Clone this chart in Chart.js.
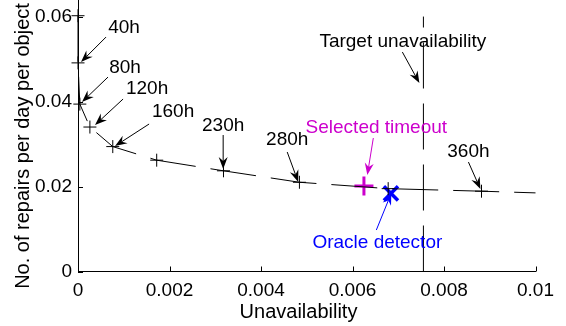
<!DOCTYPE html>
<html><head><meta charset="utf-8">
<script src="https://cdn.jsdelivr.net/npm/chart.js@4/dist/chart.umd.min.js"></script>
<style>html,body{margin:0;padding:0;background:#fff}#wrap{width:566px;height:326px;position:relative}</style>
</head><body><div id="wrap"><canvas id="c"></canvas></div>
<script>
// ---- data ----
const curveX = [0, 0, 0.00004, 0.00026, 0.00076, 0.00172, 0.00318, 0.00484, 0.00678, 0.00882, 0.0106];
const curveY = [0.0602, 0.0491, 0.0394, 0.0340, 0.0294, 0.0262, 0.0237, 0.0210, 0.0195, 0.0189, 0.0183];
const targetX = [0.00755, 0.00755];
const targetY = [0, 0.06];
const selectedX = [0.00625];
const selectedY = [0.0201];
const oracleX = [0.00684];
const oracleY = [0.0184];
const xTickLabels = ['0', '0.002', '0.004', '0.006', '0.008', '0.01'];
const yTickLabels = ['0', '0.02', '0.04', '0.06'];
const xTitle = 'Unavailability';
const yTitle = 'No. of repairs per day per object';
// annotations (data coordinates)
const noteLabel = ['40h', '80h', '120h', '160h', '230h', '280h', 'Selected timeout', 'Target unavailability', '360h', 'Oracle detector'];
const noteTextX = [0.001007, 0.001028, 0.00151, 0.002079, 0.003173, 0.004573, 0.006521, 0.0071, 0.008534, 0.006543];
const noteTextY = [0.05612, 0.04671, 0.04176, 0.03647, 0.03318, 0.02976, 0.03259, 0.05289, 0.02706, 0.00553];
const arrowFromX = [0.000613, 0.000656, 0.000985, 0.001554, 0.003173, 0.004573, 0.006455, 0.00709, 0.008534, 0.006521];
const arrowFromY = [0.05518, 0.04576, 0.04059, 0.03471, 0.03212, 0.02812, 0.03141, 0.05165, 0.02576, 0.00976];
const arrowToX = [0.000066, 0.0000875, 0.000372, 0.00081, 0.003173, 0.004814, 0.006324, 0.007462, 0.008796, 0.006849];
const arrowToY = [0.04929, 0.03988, 0.03447, 0.02953, 0.02412, 0.02106, 0.02271, 0.04435, 0.01941, 0.01847];

// ---- styles ----
const FONT = "'Liberation Sans', Arial, Helvetica, sans-serif";
const MAGENTA = '#cc00cc';
const BLUE = '#0000ff';
const noteColor = i => (i === 6 ? MAGENTA : i === 9 ? BLUE : '#000');

const pts = (xs, ys) => xs.map((x, i) => ({x, y: ys[i]}));

function arrow(ctx, x1, y1, x2, y2, color) {
  const ang = Math.atan2(y2 - y1, x2 - x1);
  const L = 12, W = 4.5, N = 8;
  const bx = x2 - Math.cos(ang) * N, by = y2 - Math.sin(ang) * N;
  ctx.save();
  ctx.strokeStyle = color; ctx.fillStyle = color; ctx.lineWidth = 1;
  ctx.beginPath(); ctx.moveTo(x1, y1); ctx.lineTo(bx, by); ctx.stroke();
  const cx = x2 - Math.cos(ang) * L, cy = y2 - Math.sin(ang) * L;
  const px = -Math.sin(ang) * W, py = Math.cos(ang) * W;
  ctx.beginPath();
  ctx.moveTo(x2, y2);
  ctx.lineTo(cx + px, cy + py);
  ctx.lineTo(bx, by);
  ctx.lineTo(cx - px, cy - py);
  ctx.closePath(); ctx.fill();
  ctx.restore();
}

const decor = {
  id: 'decor',
  afterDatasetsDraw(chart) {
    const {ctx, scales: {x, y}, chartArea: a} = chart;
    ctx.save();
    // inward ticks
    ctx.strokeStyle = '#000'; ctx.lineWidth = 1;
    ctx.beginPath();
    x.ticks.forEach(t => { const p = Math.round(x.getPixelForValue(t.value)) + 0.5; ctx.moveTo(p, a.bottom); ctx.lineTo(p, a.bottom - 5); });
    y.ticks.forEach(t => { const p = Math.round(y.getPixelForValue(t.value)) + 0.5; ctx.moveTo(a.left, p); ctx.lineTo(a.left + 5, p); });
    ctx.stroke();
    // annotations
    ctx.font = '19px ' + FONT;
    ctx.textAlign = 'center'; ctx.textBaseline = 'alphabetic';
    noteLabel.forEach((s, i) => {
      const c = noteColor(i);
      ctx.fillStyle = c;
      ctx.fillText(s, x.getPixelForValue(noteTextX[i]), y.getPixelForValue(noteTextY[i]));
      arrow(ctx, x.getPixelForValue(arrowFromX[i]), y.getPixelForValue(arrowFromY[i]),
            x.getPixelForValue(arrowToX[i]), y.getPixelForValue(arrowToY[i]), c);
    });
    // axis titles
    ctx.fillStyle = '#000';
    ctx.font = '20px ' + FONT;
    ctx.textAlign = 'center'; ctx.textBaseline = 'alphabetic';
    ctx.fillText(xTitle, 298.5, 317.5);
    ctx.save();
    ctx.translate(29, 146); ctx.rotate(-Math.PI / 2);
    ctx.fillText(yTitle, 0, 0);
    ctx.restore();
    ctx.restore();
  }
};

new Chart(document.getElementById('c'), {
  type: 'scatter',
  data: {
    datasets: [
      {data: pts(curveX, curveY), showLine: true, borderColor: '#000', borderWidth: 1, borderDash: [46, 15],
       pointStyle: 'cross', pointRadius: 6.5, pointBorderColor: '#000', pointBorderWidth: 1, tension: 0,
       clip: {left: 12, top: 12, right: 0, bottom: 0}},
      {data: pts(targetX, targetY), showLine: true, borderColor: '#000', borderWidth: 1, borderDash: [46, 15],
       pointRadius: 0, clip: false},
      {data: pts(selectedX, selectedY), showLine: false, pointStyle: 'cross', pointRadius: 9.5,
       pointBorderColor: MAGENTA, pointBorderWidth: 3, clip: false},
      {data: pts(oracleX, oracleY), showLine: false, pointStyle: 'crossRot', pointRadius: 10,
       pointBorderColor: BLUE, pointBorderWidth: 3.5, clip: false}
    ]
  },
  options: {
    responsive: true, maintainAspectRatio: false, animation: false,
    layout: {autoPadding: false, padding: {left: 0, top: 0, right: 30.5, bottom: 0}},
    plugins: {legend: {display: false}, tooltip: {enabled: false}},
    scales: {
      x: {type: 'linear', min: 0, max: 0.01,
          grid: {display: false, drawTicks: false}, border: {display: true, color: '#000', width: 1},
          ticks: {stepSize: 0.002, includeBounds: false, padding: 8, color: '#000', maxRotation: 0,
                  font: {family: FONT, size: 19}, callback: (v, i) => xTickLabels[i]},
          afterFit: s => { s.height = 54.5; s.paddingLeft = 0; s.paddingRight = 0; }},
      y: {type: 'linear', min: 0, max: 0.0639,
          grid: {display: false, drawTicks: false}, border: {display: true, color: '#000', width: 1},
          ticks: {stepSize: 0.02, includeBounds: false, padding: 6, color: '#000',
                  font: {family: FONT, size: 19}, callback: (v, i) => yTickLabels[i]},
          afterFit: s => { s.width = 78; s.paddingTop = 0; s.paddingBottom = 0; }}
    }
  },
  plugins: [decor]
});
</script>
</body></html>
